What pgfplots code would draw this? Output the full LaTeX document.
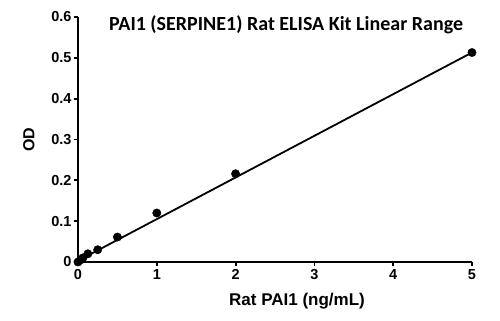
\documentclass[border=0pt]{standalone}
\usepackage{pgfplots}
\pgfplotsset{compat=1.18}
\usepackage{fontspec}
\setmainfont{Liberation Sans}
\newfontfamily\titlefont{Carlito}
\begin{document}
\begin{tikzpicture}
\begin{axis}[
  scale only axis,
  width=394bp, height=245bp,
  xmin=0, xmax=5, ymin=0, ymax=0.6,
  axis lines=left,
  axis line style={-, line width=2.4bp},
  xtick={0,1,2,3,4,5},
  ytick={0,0.1,0.2,0.3,0.4,0.5,0.6},
  tick align=outside,
  major tick length=4bp,
  tick style={black, line width=1.8bp},
  tick label style={font=\fontsize{14.5bp}{16bp}\selectfont\bfseries},
  /pgf/number format/assume math mode=true,
  yticklabel style={/pgf/number format/fixed, /pgf/number format/precision=1, xshift=1bp},
  xlabel={\fontsize{17bp}{19bp}\selectfont\bfseries Rat PAI1 (ng/mL)},
  ylabel={\fontsize{16bp}{18bp}\selectfont\bfseries OD},
  xlabel style={at={(axis description cs:0.5,0)}, anchor=north, yshift=-28bp, xshift=22bp},
  ylabel style={at={(axis description cs:0,0.5)}, anchor=south, yshift=40bp},
  clip=false,
]
\addplot[black, line width=1.8bp, no markers] coordinates {(0,0.003) (5,0.513)};
\addplot[only marks, mark=*, mark size=4.2bp, black] coordinates {
  (0,0) (0.03125,0.005) (0.0625,0.01) (0.125,0.02) (0.25,0.03) (0.5,0.061) (1,0.12) (2,0.216) (5,0.513)
};
\node[font=\titlefont\fontsize{20bp}{22bp}\selectfont\bfseries] at (axis cs:2.64,0.58) {PAI1 (SERPINE1) Rat ELISA Kit Linear Range};
\end{axis}
\pgfresetboundingbox
\path ([shift={(-78bp,-59bp)}]current axis.south west) rectangle ([shift={(28bp,17bp)}]current axis.north east);
\end{tikzpicture}
\end{document}
